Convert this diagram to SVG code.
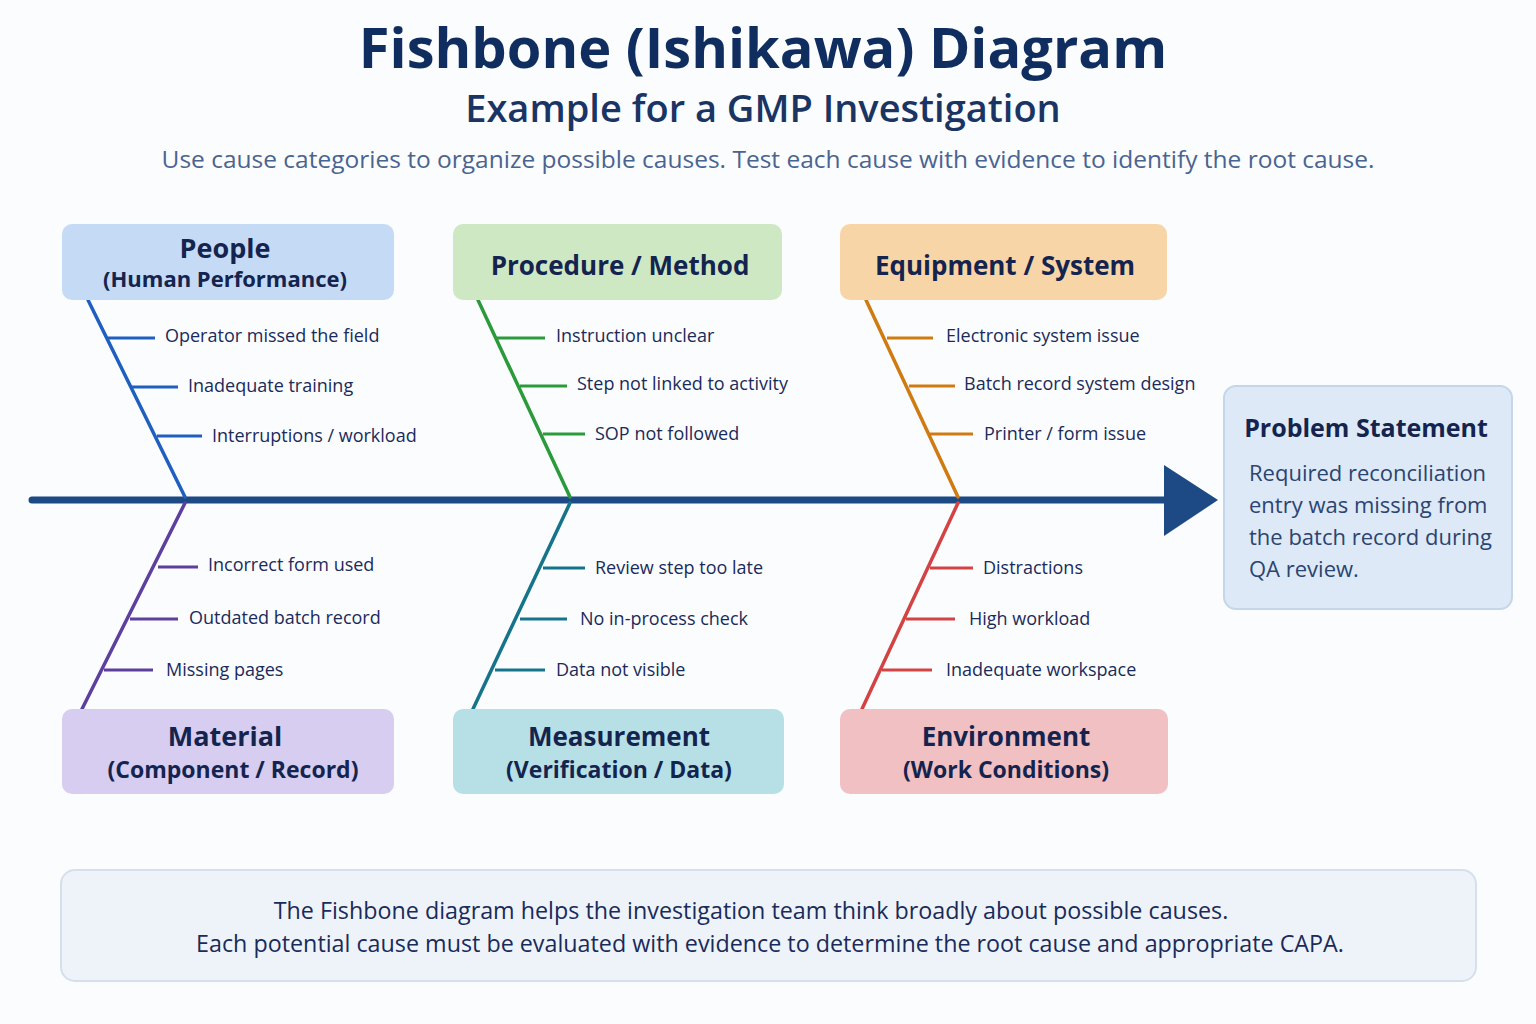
<svg xmlns="http://www.w3.org/2000/svg" width="1536" height="1024" viewBox="0 0 1536 1024">
<style>
.t{font-family:"Open Sans","Liberation Sans",sans-serif;fill:#1a2b5a}
.c{font-family:"Open Sans","Liberation Sans",sans-serif;fill:#1a2b5a;font-size:18px}
.h{font-family:"Open Sans","Liberation Sans",sans-serif;fill:#14244f;font-weight:bold;text-anchor:middle}
.b{fill:none;stroke-width:3.5;stroke-linecap:round}
.r{fill:none;stroke-width:3}
</style>
<rect width="1536" height="1024" fill="#fbfcfe"/>
<text x="763" y="68" class="h" style="font-size:56px;fill:#0f2d5e">Fishbone (Ishikawa) Diagram</text>
<text x="763" y="122" class="h" style="font-size:38px;font-weight:600;fill:#1a3563">Example for a GMP Investigation</text>
<text x="768" y="168" class="t" style="font-size:24.5px;fill:#4a6490;text-anchor:middle">Use cause categories to organize possible causes.  Test each cause with evidence to identify the root cause.</text>
<g id="connectors">
<line x1="32" y1="500" x2="1170" y2="500" stroke="#1d4a85" stroke-width="7" stroke-linecap="round"/>
<polygon points="1164,465 1218,500 1164,536" fill="#1d4a85"/>
<g stroke="#1f5fbf"><line class="b" x1="88" y1="300" x2="185" y2="497"/><line class="r" x1="108" y1="338" x2="155" y2="338"/><line class="r" x1="132" y1="387" x2="178" y2="387"/><line class="r" x1="157" y1="436" x2="202" y2="436"/></g>
<g stroke="#2a9a3a"><line class="b" x1="478" y1="300" x2="570" y2="497"/><line class="r" x1="497" y1="338" x2="545" y2="338"/><line class="r" x1="520" y1="386" x2="567" y2="386"/><line class="r" x1="543" y1="434" x2="585" y2="434"/></g>
<g stroke="#d07a12"><line class="b" x1="866" y1="300" x2="958" y2="497"/><line class="r" x1="887" y1="338" x2="933" y2="338"/><line class="r" x1="909" y1="386" x2="955" y2="386"/><line class="r" x1="930" y1="434" x2="973" y2="434"/></g>
<g stroke="#5d3f9e"><line class="b" x1="185" y1="503" x2="82" y2="709"/><line class="r" x1="158" y1="567" x2="198" y2="567"/><line class="r" x1="130" y1="619" x2="178" y2="619"/><line class="r" x1="104" y1="670" x2="153" y2="670"/></g>
<g stroke="#16748a"><line class="b" x1="570" y1="503" x2="473" y2="709"/><line class="r" x1="543" y1="568" x2="585" y2="568"/><line class="r" x1="520" y1="619" x2="567" y2="619"/><line class="r" x1="495" y1="670" x2="545" y2="670"/></g>
<g stroke="#d24444"><line class="b" x1="958" y1="503" x2="862" y2="709"/><line class="r" x1="930" y1="568" x2="973" y2="568"/><line class="r" x1="906" y1="619" x2="955" y2="619"/><line class="r" x1="882" y1="670" x2="932" y2="670"/></g>
</g>
<g id="people"><rect x="62" y="224" width="332" height="76" rx="10" fill="#c5daf5"/><text x="225" y="258" class="h" style="font-size:27px">People</text><text x="225" y="287" class="h" style="font-size:22px">(Human Performance)</text>
<text x="165" y="342" class="c">Operator missed the field</text><text x="188" y="392" class="c">Inadequate training</text><text x="212" y="442" class="c">Interruptions / workload</text></g>
<g id="procedure"><rect x="453" y="224" width="329" height="76" rx="10" fill="#cfe8c4"/><text x="620" y="275" class="h" style="font-size:26px">Procedure / Method</text>
<text x="556" y="342" class="c">Instruction unclear</text><text x="577" y="390" class="c">Step not linked to activity</text><text x="595" y="440" class="c">SOP not followed</text></g>
<g id="equipment"><rect x="840" y="224" width="327" height="76" rx="10" fill="#f8d5a6"/><text x="1005" y="275" class="h" style="font-size:26px">Equipment / System</text>
<text x="946" y="342" class="c">Electronic system issue</text><text x="964" y="390" class="c">Batch record system design</text><text x="984" y="440" class="c">Printer / form issue</text></g>
<g id="material"><rect x="62" y="709" width="332" height="85" rx="10" fill="#d6cdf0"/><text x="225" y="746" class="h" style="font-size:27px">Material</text><text x="233" y="778" class="h" style="font-size:23px">(Component / Record)</text>
<text x="208" y="571" class="c">Incorrect form used</text><text x="189" y="624" class="c">Outdated batch record</text><text x="166" y="676" class="c">Missing pages</text></g>
<g id="measurement"><rect x="453" y="709" width="331" height="85" rx="10" fill="#b6e0e6"/><text x="619" y="746" class="h" style="font-size:26px">Measurement</text><text x="619" y="778" class="h" style="font-size:23px">(Verification / Data)</text>
<text x="595" y="574" class="c">Review step too late</text><text x="580" y="625" class="c">No in-process check</text><text x="556" y="676" class="c">Data not visible</text></g>
<g id="environment"><rect x="840" y="709" width="328" height="85" rx="10" fill="#f0c0c2"/><text x="1006" y="746" class="h" style="font-size:26px">Environment</text><text x="1006" y="778" class="h" style="font-size:23px">(Work Conditions)</text>
<text x="983" y="574" class="c">Distractions</text><text x="969" y="625" class="c">High workload</text><text x="946" y="676" class="c">Inadequate workspace</text></g>
<g id="problem"><rect x="1224" y="386" width="288" height="223" rx="12" fill="#dde9f6" stroke="#c5d6ea" stroke-width="2"/><text x="1366" y="437" class="h" style="font-size:25px">Problem Statement</text>
<text class="t" style="font-size:22px;fill:#2c4470"><tspan x="1249" y="481">Required reconciliation</tspan><tspan x="1249" y="513">entry was missing from</tspan><tspan x="1249" y="545">the batch record during</tspan><tspan x="1249" y="577">QA review.</tspan></text></g>
<g id="note"><rect x="61" y="870" width="1415" height="111" rx="14" fill="#eef3f9" stroke="#d5e0ec" stroke-width="2"/>
<text class="t" style="font-size:23.3px;text-anchor:middle"><tspan x="751" y="919">The Fishbone diagram helps the investigation team think broadly about possible causes.</tspan><tspan x="770" y="952">Each potential cause must be evaluated with evidence to determine the root cause and appropriate CAPA.</tspan></text></g>
</svg>
